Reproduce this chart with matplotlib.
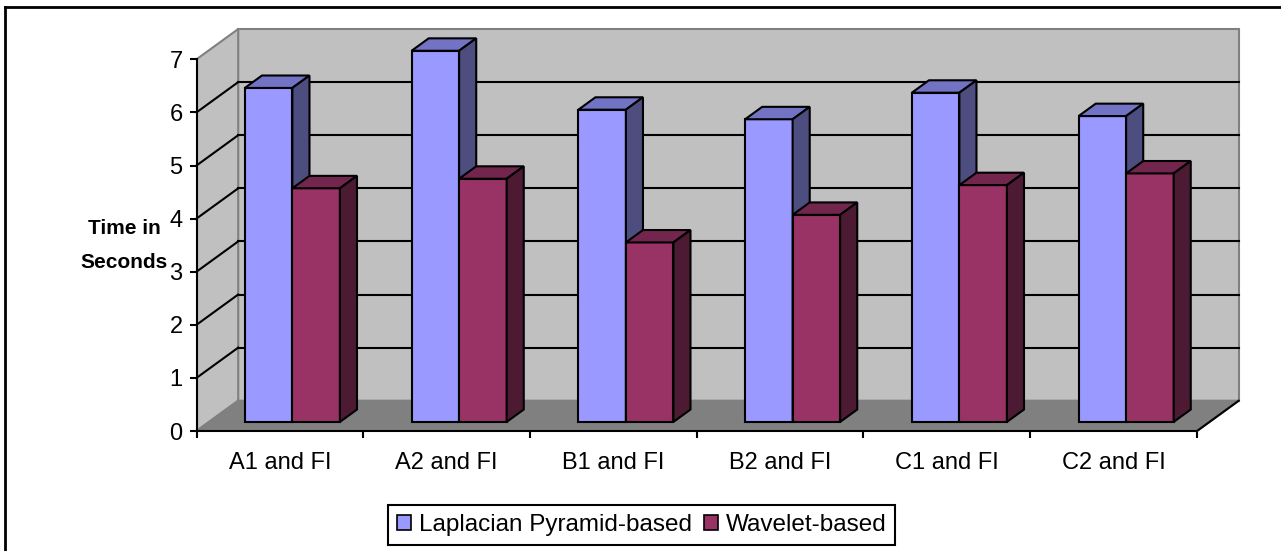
import numpy as np
import matplotlib
matplotlib.use("Agg")
import matplotlib.pyplot as plt
from matplotlib.patches import Polygon, Patch
from matplotlib.lines import Line2D

plt.rcParams['font.family'] = ['Liberation Sans', 'DejaVu Sans']

categories = ["A1 and FI", "A2 and FI", "B1 and FI", "B2 and FI", "C1 and FI", "C2 and FI"]
laplacian = [6.29, 6.99, 5.88, 5.70, 6.20, 5.76]
wavelet = [4.40, 4.58, 3.38, 3.90, 4.46, 4.68]
series_names = ["Laplacian Pyramid-based", "Wavelet-based"]
y_ticks = [0, 1, 2, 3, 4, 5, 6, 7]

# face colours: front, top, side
LAP_COLORS = ("#9999ff", "#7373c6", "#4d4d80")
WAV_COLORS = ("#993366", "#73264d", "#4d1a33")
WALL = "#c0c0c0"
FLOOR = "#808080"
EDGE_GRAY = "#808080"

# oblique depth of the box (data units)
DX, DY = 0.25, 0.57
F0, F1 = 0.30, 0.71      # bar front/back as a fraction of the box depth
BAR_W = 0.285
YMAX = 7

fig = plt.figure(figsize=(12.81, 5.51), dpi=100)
px_x, px_y = 166.75, 53.1
ax = fig.add_axes([196.5 / 1281, 120 / 551, 6.3 * px_x / 1281, 7.6 * px_y / 551])
ax.set_xlim(0, 6.3)
ax.set_ylim(0, 7.6)
ax.patch.set_visible(False)
n = len(categories)

# walls and floor
ax.add_patch(Polygon([(DX, DY), (n + DX, DY), (n + DX, YMAX + DY), (DX, YMAX + DY)],
                     closed=True, facecolor=WALL, edgecolor=EDGE_GRAY, lw=1.5, zorder=0))
ax.add_patch(Polygon([(0, 0), (DX, DY), (DX, YMAX + DY), (0, YMAX)],
                     closed=True, facecolor=WALL, edgecolor=EDGE_GRAY, lw=1.5, zorder=0))
ax.add_patch(Polygon([(0, 0), (n, 0), (n + DX, DY), (DX, DY)],
                     closed=True, facecolor=FLOOR, edgecolor=EDGE_GRAY, lw=1.5, zorder=1))
ax.plot([n, n + DX], [0, DY], color="black", lw=1.5, zorder=1, clip_on=False)

# gridlines on back and side walls
for k in y_ticks[1:-1]:
    ax.plot([DX, n + DX], [k + DY, k + DY], color="black", lw=1.5, zorder=0.5, clip_on=False)
    ax.plot([0, DX], [k, k + DY], color="black", lw=1.5, zorder=0.5, clip_on=False)


def draw_bars(x_left, values, colors, z):
    y0 = F0 * DY
    dxb, dyb = (F1 - F0) * DX, (F1 - F0) * DY
    ax.bar(x_left, values, width=BAR_W, bottom=y0, align="edge",
           color=colors[0], edgecolor="black", lw=1.5, zorder=z)
    for xl, v in zip(x_left, values):
        xr, top = xl + BAR_W, y0 + v
        ax.add_patch(Polygon([(xl, top), (xl + dxb, top + dyb), (xr + dxb, top + dyb), (xr, top)],
                             closed=True, facecolor=colors[1], edgecolor="black", lw=1.5, zorder=z))
        ax.add_patch(Polygon([(xr, y0), (xr + dxb, y0 + dyb), (xr + dxb, top + dyb), (xr, top)],
                             closed=True, facecolor=colors[2], edgecolor="black", lw=1.5, zorder=z))


centers = np.arange(n) + 0.5 + F0 * DX
draw_bars(centers - BAR_W, laplacian, LAP_COLORS, 3)
draw_bars(centers, wavelet, WAV_COLORS, 4)

# axes
for side in ("top", "right"):
    ax.spines[side].set_visible(False)
ax.spines["left"].set_bounds(0, YMAX)
ax.spines["bottom"].set_bounds(0, n)
for side in ("left", "bottom"):
    ax.spines[side].set_linewidth(1.5)
    ax.spines[side].set_zorder(2)
ax.set_yticks(y_ticks)
ax.tick_params(axis="y", direction="out", length=5, width=1.5, labelsize=17, pad=5)
ax.set_xticks(np.arange(n + 1))
ax.set_xticklabels([])
ax.set_xticks(np.arange(n) + 0.5, minor=True)
ax.set_xticklabels(categories, minor=True)
ax.tick_params(axis="x", which="major", direction="out", length=5, width=1.5)
ax.tick_params(axis="x", which="minor", length=0, labelsize=17, pad=15)

fig.text(124 / 1281, 1 - 245 / 551, "Time in\nSeconds", fontsize=15, fontweight="bold",
         ha="center", va="center", multialignment="center", linespacing=2.0)

handles = [Patch(facecolor=LAP_COLORS[0], edgecolor="black", lw=1.2),
           Patch(facecolor=WAV_COLORS[0], edgecolor="black", lw=1.2)]
leg = fig.legend(handles, series_names, loc="center", ncol=2,
                 bbox_to_anchor=(641.5 / 1281, 1 - 525 / 551), fontsize=17.5,
                 handlelength=0.6, handleheight=0.6, handletextpad=0.3, columnspacing=0.5,
                 borderpad=0.35, fancybox=False, framealpha=1)
leg.get_frame().set_edgecolor("black")
leg.get_frame().set_linewidth(1.5)

# chart area border (left and top)
fig.add_artist(Line2D([5 / 1281, 5 / 1281], [0, 1 - 7 / 551], transform=fig.transFigure,
                      color="black", lw=2))
fig.add_artist(Line2D([5 / 1281, 1], [1 - 7 / 551, 1 - 7 / 551], transform=fig.transFigure,
                      color="black", lw=2))

fig.savefig("out.png", dpi=100)
